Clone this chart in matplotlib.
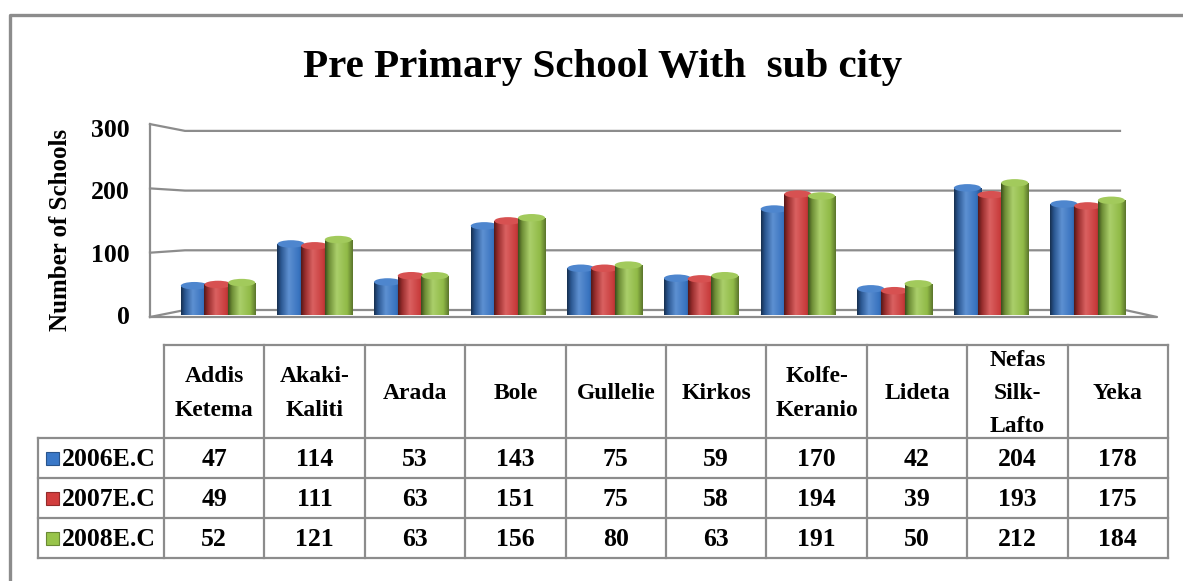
import matplotlib
matplotlib.use("Agg")
import matplotlib.pyplot as plt
import numpy as np
from matplotlib.patches import Rectangle, Ellipse
from matplotlib.colors import to_rgb

# ---------------- data ----------------
categories = ["Addis\nKetema", "Akaki-\nKaliti", "Arada", "Bole", "Gullelie",
              "Kirkos", "Kolfe-\nKeranio", "Lideta", "Nefas\nSilk-\nLafto", "Yeka"]
series_names = ["2006E.C", "2007E.C", "2008E.C"]
v2006 = [47, 114, 53, 143, 75, 59, 170, 42, 204, 178]
v2007 = [49, 111, 63, 151, 75, 58, 194, 39, 193, 175]
v2008 = [52, 121, 63, 156, 80, 63, 191, 50, 212, 184]
yticks = [0, 100, 200, 300]
title = "Pre Primary School With  sub city"
ylabel = "Number of Schools"

series_values = [v2006, v2007, v2008]
base_colors = ["#3A78C8", "#D23E3E", "#98C44A"]

W, H = 1183, 581
fig = plt.figure(figsize=(W / 100, H / 100), dpi=100)
FONT = ["Liberation Serif", "DejaVu Serif"]
GRID = "#8c8c8c"

def fx(x):
    return x / W

def fy(y):
    return 1 - y / H

# overlay axes in pixel coordinates (walls, table, frame)
ov = fig.add_axes([0, 0, 1, 1], zorder=0)
ov.set_xlim(0, W)
ov.set_ylim(H, 0)
ov.axis("off")

# outer frame (left + top visible)
ov.plot([10, 10, W + 5], [H + 5, 15, 15], color=GRID, lw=2.4, solid_capstyle="butt")

# title
ov.text(603, 68, title, ha="center", va="center", fontsize=29.5, fontweight="bold",
        family=FONT)

# --------------- chart walls ---------------
front_x, back_x, back_right = 150, 185, 1120
def y_front(v):
    return 317 - v * 0.643
def y_back(v):
    return 310 - v * 0.597

for v in yticks:
    ov.plot([front_x, back_x, back_right], [y_front(v), y_back(v), y_back(v)],
            color=GRID, lw=1.6, zorder=1)
ov.plot([front_x, front_x], [y_front(0), y_front(max(yticks))], color=GRID, lw=1.6, zorder=1)
# floor
ov.plot([front_x, 1157, 1125], [y_front(0), y_front(0), y_back(0)], color=GRID, lw=1.6, zorder=1)

# --------------- bar axes ---------------
ax_left_px, ax_right_px = 169.7, 1136.0
ax_bot_px, ax_top_px = 315.0, 128.0
ax = fig.add_axes([fx(ax_left_px), fy(ax_bot_px), (ax_right_px - ax_left_px) / W,
                   (ax_bot_px - ax_top_px) / H], zorder=2)
ax.patch.set_visible(False)
for s in ax.spines.values():
    s.set_visible(False)

n = len(categories)
x = np.arange(n)
bw = 0.28
offsets = [-0.245, 0.0, 0.245]
cap_h = 12.0

def profile(base):
    b = np.array(to_rgb(base))
    light = b + (1 - b) * 0.18
    stops = [(0.0, b * 0.4), (0.14, b * 0.72), (0.42, light), (0.8, b * 0.95), (1.0, b * 0.6)]
    N = 64
    t = np.linspace(0, 1, N)
    arr = np.zeros((1, N, 4))
    ts = [s[0] for s in stops]
    for c in range(3):
        arr[0, :, c] = np.interp(t, ts, [s[1][c] for s in stops])
    arr[0, :, 3] = 1
    return np.clip(arr, 0, 1)

for si, (vals, col) in enumerate(zip(series_values, base_colors)):
    bars = ax.bar(x + offsets[si], vals, width=bw, color="none", edgecolor="none",
                  zorder=3 + si)
    grad = profile(col)
    b = np.array(to_rgb(col))
    for rect in bars:
        x0, w, h = rect.get_x(), rect.get_width(), rect.get_height()
        im = ax.imshow(grad, extent=[x0, x0 + w, 0, h], aspect="auto", zorder=3 + si,
                       interpolation="bilinear")
        im.set_clip_path(rect)
        top = Ellipse((x0 + w / 2, h), w, cap_h, facecolor=np.clip(b + (1 - b) * 0.1, 0, 1),
                      edgecolor="none", zorder=3.5 + si)
        ax.add_patch(top)
        bot = Ellipse((x0 + w / 2, 0), w, cap_h * 0.6, facecolor=b * 0.8,
                      edgecolor="none", zorder=2.9 + si)
        ax.add_patch(bot)

ax.set_xlim(-0.5, n - 0.5)
ax.set_ylim(0, 300)
ax.set_xticks([])
ax.set_yticks(yticks)
ax.set_yticklabels([str(v) for v in yticks], fontsize=18.5, fontweight="bold", family=FONT)
ax.tick_params(axis="y", length=0, pad=28.5)
ax.set_ylabel(ylabel, fontsize=18, fontweight="bold", family=FONT)
ax.yaxis.set_label_coords((72 - ax_left_px) / (ax_right_px - ax_left_px),
                          (ax_bot_px - 230) / (ax_bot_px - ax_top_px))

# --------------- data table ---------------
t_left, t_lab_right, t_right = 38, 164, 1168
t_top, t_head_bot = 345, 438
row_h = 40
col_w = (t_right - t_lab_right) / n
col_edges = [t_lab_right + i * col_w for i in range(n + 1)]
row_edges = [t_head_bot + i * row_h for i in range(len(series_names) + 1)]

ov.plot([t_lab_right, t_right], [t_top, t_top], color=GRID, lw=1.6)
for xe in col_edges:
    ov.plot([xe, xe], [t_top, row_edges[-1]], color=GRID, lw=1.6)
for ye in row_edges:
    ov.plot([t_left, t_right], [ye, ye], color=GRID, lw=1.6)
ov.plot([t_left, t_left], [row_edges[0], row_edges[-1]], color=GRID, lw=1.6)

for i, cat in enumerate(categories):
    cx = col_edges[i] + col_w / 2
    ov.text(cx, (t_top + t_head_bot) / 2 + 2, cat, ha="center", va="center", fontsize=17,
            fontweight="bold", family=FONT, linespacing=1.75)
    for r, vals in enumerate(series_values):
        cy = (row_edges[r] + row_edges[r + 1]) / 2 + 1
        ov.text(cx, cy, str(vals[i]), ha="center", va="center", fontsize=18.5,
                fontweight="bold", family=FONT)

for r, (name, col) in enumerate(zip(series_names, base_colors)):
    cy = (row_edges[r] + row_edges[r + 1]) / 2
    b = np.array(to_rgb(col))
    ov.add_patch(Rectangle((46, cy - 6.5), 13, 13, facecolor=col, edgecolor=b * 0.7, lw=0.8))
    ov.text(62, cy + 1, name, ha="left", va="center", fontsize=18.5, fontweight="bold",
            family=FONT)

fig.savefig("out.png", dpi=100)
